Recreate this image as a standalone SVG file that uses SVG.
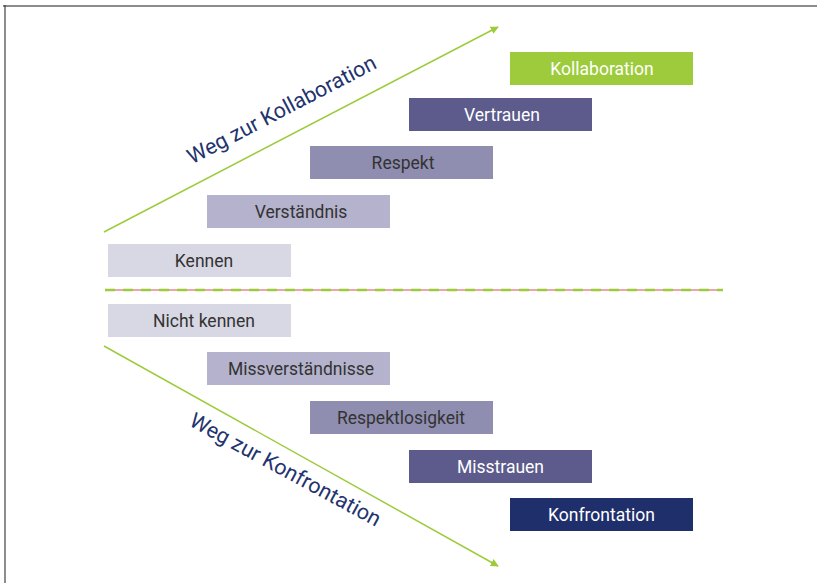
<svg xmlns="http://www.w3.org/2000/svg" width="817" height="583" viewBox="0 0 817 583">
<defs>
<style>
.lbl{font-family:Roboto,"Liberation Sans",sans-serif;font-size:17.5px;text-anchor:middle}
.dk{fill:#333333}
.wt{fill:#ffffff}
.path{font-family:Roboto,"Liberation Sans",sans-serif;font-size:21.5px;fill:#23336e;text-anchor:middle}
.arr{stroke:#9dcb3c;stroke-width:1.5;fill:none}
</style>
<marker id="ah" viewBox="0 0 10 10" refX="9" refY="5" markerWidth="8" markerHeight="8" markerUnits="userSpaceOnUse" orient="auto">
<path d="M0,0 L10,5 L0,10 z" fill="#9dcb3c"/>
</marker>
</defs>
<rect width="817" height="583" fill="#ffffff"/>
<line x1="3" y1="6" x2="817" y2="6" stroke="#8c8c8c" stroke-width="2"/>
<line x1="5" y1="5" x2="5" y2="583" stroke="#404040" stroke-width="1.2"/>
<g id="connectors">
<line class="arr" x1="104" y1="232" x2="498" y2="27" marker-end="url(#ah)"/>
<line class="arr" x1="104" y1="346" x2="498" y2="566" marker-end="url(#ah)"/>
<line x1="105" y1="290" x2="723" y2="290" stroke="#e8868f" stroke-width="1.5"/>
<line x1="105" y1="290" x2="723" y2="290" stroke="#9dcb3c" stroke-width="2.5" stroke-dasharray="10,8"/>
</g>
<g id="label-kollab"><text class="path" transform="translate(285,116) rotate(-27.5)">Weg zur Kollaboration</text></g>
<g id="label-konfront"><text class="path" transform="translate(282,476) rotate(28.5)">Weg zur Konfrontation</text></g>
<g id="kollaboration"><rect x="510" y="52" width="183" height="33" fill="#9dcb3c"/><text class="lbl wt" x="602" y="75">Kollaboration</text></g>
<g id="vertrauen"><rect x="409" y="98" width="183" height="33" fill="#5c5b8b"/><text class="lbl wt" x="502" y="121">Vertrauen</text></g>
<g id="respekt"><rect x="310" y="146" width="183" height="33" fill="#8f8eb0"/><text class="lbl dk" x="403" y="169">Respekt</text></g>
<g id="verstaendnis"><rect x="207" y="195" width="183" height="33" fill="#b4b2cc"/><text class="lbl dk" x="301" y="218">Verständnis</text></g>
<g id="kennen"><rect x="108" y="244" width="183" height="33" fill="#d8d8e4"/><text class="lbl dk" x="204" y="267">Kennen</text></g>
<g id="nicht-kennen"><rect x="108" y="304" width="183" height="33" fill="#d8d8e4"/><text class="lbl dk" x="204" y="327">Nicht kennen</text></g>
<g id="missverstaendnisse"><rect x="207" y="352" width="183" height="33" fill="#b4b2cc"/><text class="lbl dk" x="301" y="375">Missverständnisse</text></g>
<g id="respektlosigkeit"><rect x="310" y="401" width="183" height="33" fill="#8f8eb0"/><text class="lbl dk" x="401" y="424">Respektlosigkeit</text></g>
<g id="misstrauen"><rect x="409" y="450" width="183" height="33" fill="#5c5b8b"/><text class="lbl wt" x="500.5" y="473">Misstrauen</text></g>
<g id="konfrontation"><rect x="510" y="498" width="183" height="33" fill="#1f2f6b"/><text class="lbl wt" x="601.5" y="521">Konfrontation</text></g>
</svg>
